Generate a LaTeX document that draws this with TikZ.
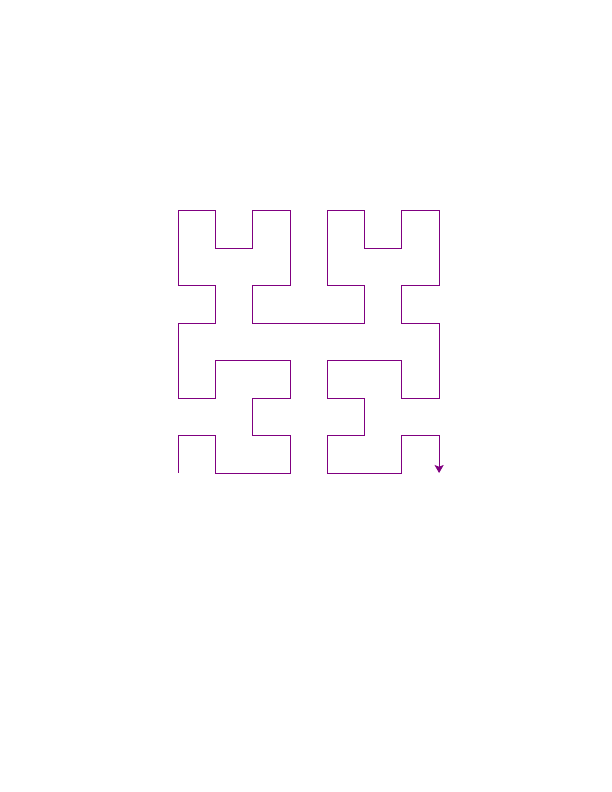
\documentclass[tikz,border=0pt]{standalone}
\usepackage{tikz}
\usetikzlibrary{arrows.meta}
\definecolor{hpurple}{HTML}{800080}
\tikzset{
  curve/.style = {hpurple, line width=0.8pt, line join=miter,
                  -{Stealth[length=2.8mm,width=3.2mm,inset=0.6mm]}},
}
\begin{document}
\begin{tikzpicture}
\useasboundingbox (0,0) rectangle (612pt,792pt);
% ---- hilbert curve, order 3 (grid units) ------------------------------
\begin{scope}[shift={(178pt,319pt)}, x=37.3pt, y=37.45pt]
\coordinate (start) at (0,0);
\coordinate (stop)  at (7,0);
\draw[curve] (start)
  -- (0,1) -- (1,1) -- (1,0) -- (3,0) -- (3,1) -- (2,1) -- (2,2) -- (3,2)
  -- (3,3) -- (1,3) -- (1,2) -- (0,2) -- (0,4) -- (1,4) -- (1,5) -- (0,5)
  -- (0,7) -- (1,7) -- (1,6) -- (2,6) -- (2,7) -- (3,7) -- (3,5) -- (2,5)
  -- (2,4) -- (5,4) -- (5,5) -- (4,5) -- (4,7) -- (5,7) -- (5,6) -- (6,6)
  -- (6,7) -- (7,7) -- (7,5) -- (6,5) -- (6,4) -- (7,4) -- (7,2) -- (6,2)
  -- (6,3) -- (4,3) -- (4,2) -- (5,2) -- (5,1) -- (4,1) -- (4,0) -- (6,0)
  -- (6,1) -- (7,1) -- (stop);
\end{scope}
\end{tikzpicture}
\end{document}
